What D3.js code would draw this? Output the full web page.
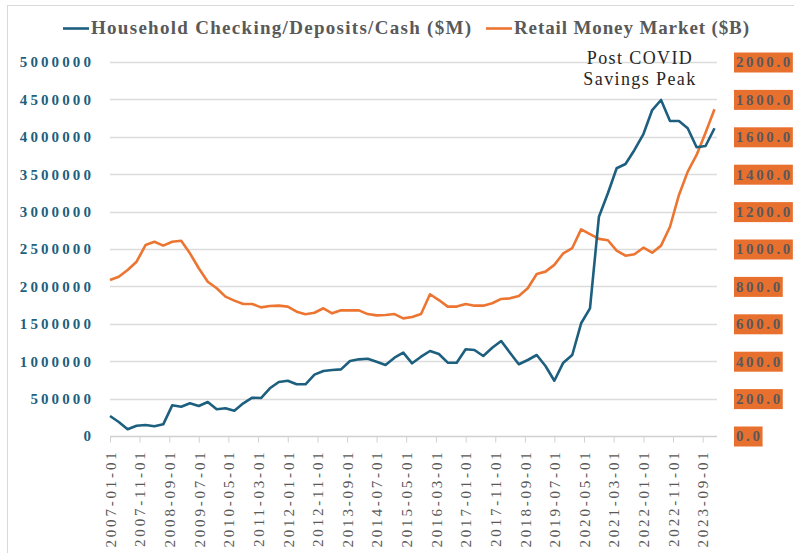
<!DOCTYPE html>
<html>
<head>
<meta charset="utf-8">
<script src="https://cdn.jsdelivr.net/npm/d3@7"></script>
<style>
  body { margin: 0; background: #fff; }
  svg text { font-family: "Liberation Serif", "Times New Roman", serif; }
</style>
</head>
<body>
<div id="linechart"></div>
<script>
// quarterly observations 2007-01-01 .. 2024-01-01
const household = [
  267000, 187000, 90000, 138000, 147000, 130000, 156000, 410000, 392000, 437000,
  401000, 455000, 357000, 370000, 338000, 437000, 512000, 508000, 638000, 722000,
  739000, 691000, 691000, 820000, 869000, 882000, 891000, 1003000, 1025000, 1033000,
  993000, 949000, 1047000, 1114000, 972000, 1060000, 1136000, 1096000, 980000, 980000,
  1159000, 1150000, 1070000, 1180000, 1270000, 1114000, 959000, 1016000, 1083000, 936000,
  739000, 980000, 1083000, 1507000, 1707000, 2932000, 3245000, 3579000, 3636000, 3824000,
  4037000, 4358000, 4492000, 4211000, 4211000, 4114000, 3860000, 3877000, 4114000
];
const moneyMarket = [
  834, 852, 888, 932, 1021, 1039, 1018, 1039, 1044, 977,
  897, 825, 790, 745, 724, 706, 706, 688, 695, 697,
  692, 665, 651, 659, 683, 656, 672, 672, 672, 652,
  645, 647, 652, 629, 636, 652, 758, 727, 692, 692,
  706, 697, 697, 710, 733, 736, 749, 790, 866, 879,
  915, 977, 1005, 1105, 1080, 1054, 1047, 991, 964, 972,
  1007, 980, 1018, 1119, 1289, 1414, 1503, 1622, 1747
];
const tickLabels = [
  '2007-01-01', '2007-11-01', '2008-09-01', '2009-07-01', '2010-05-01', '2011-03-01',
  '2012-01-01', '2012-11-01', '2013-09-01', '2014-07-01', '2015-05-01', '2016-03-01',
  '2017-01-01', '2017-11-01', '2018-09-01', '2019-07-01', '2020-05-01', '2021-03-01',
  '2022-01-01', '2022-11-01', '2023-09-01'
];
const leftTicks = [0, 500000, 1000000, 1500000, 2000000, 2500000, 3000000, 3500000, 4000000, 4500000, 5000000];
const rightTicks = [0, 200, 400, 600, 800, 1000, 1200, 1400, 1600, 1800, 2000];
const legendNames = ['Household Checking/Deposits/Cash ($M)', 'Retail Money Market ($B)'];
const noteLines = ['Post COVID', 'Savings Peak'];

const width = 794, height = 553;
const blue = '#1d5f7e', orange = '#ec7532', grey = '#595959';
const serif = '"Liberation Serif", "Times New Roman", serif';

const parse = d3.timeParse('%Y-%m-%d');
const quarters = d3.timeMonth.every(3).range(parse('2007-01-01'), parse('2024-01-02'));

const svg = d3.select('#linechart').append('svg')
  .attr('width', width).attr('height', height);

// chart frame
svg.append('rect')
  .attr('x', 7.5).attr('y', 5.5)
  .attr('width', width + 20).attr('height', height + 20)
  .attr('fill', 'none').attr('stroke', '#d9d9d9');

const xScale = d3.scaleTime()
  .domain([parse('2007-01-01'), parse('2024-01-01')])
  .range([110, 714.5]);
const yLeft = d3.scaleLinear().domain([0, 5000000]).range([436, 62]);
const yRight = d3.scaleLinear().domain([0, 2000]).range([436, 62]);
const plotRight = 717;

// grid lines
svg.append('g')
  .selectAll('line')
  .data(leftTicks.slice(1))
  .join('line')
  .attr('x1', 110).attr('x2', plotRight)
  .attr('y1', d => Math.round(yLeft(d)) + 0.5).attr('y2', d => Math.round(yLeft(d)) + 0.5)
  .attr('stroke', '#dcdcdc').attr('stroke-width', 1.3);

// x axis
const xAxis = svg.append('g')
  .attr('transform', 'translate(0,436.5)')
  .call(d3.axisBottom(xScale)
    .tickValues(tickLabels.map(parse))
    .tickSize(6)
    .tickPadding(10)
    .tickFormat(d3.timeFormat('%Y-%m-%d')));
xAxis.attr('font-family', null);
xAxis.select('.domain').attr('d', `M110,0H${plotRight}`).attr('stroke', '#d0d0d0').attr('stroke-width', 1.3);
xAxis.selectAll('.tick line').attr('stroke', '#d0d0d0');
xAxis.selectAll('.tick text')
  .attr('transform', 'rotate(-90)')
  .attr('text-anchor', 'end')
  .attr('x', -13).attr('y', 0).attr('dy', '0.35em')
  .attr('fill', grey)
  .style('font-family', serif)
  .style('font-size', '15px')
  .style('letter-spacing', '2.8px');

// left axis
const leftAxis = svg.append('g')
  .attr('transform', 'translate(110,0)')
  .call(d3.axisLeft(yLeft).tickValues(leftTicks).tickSize(0).tickPadding(16).tickFormat(d3.format('d')));
leftAxis.attr('font-family', null);
leftAxis.select('.domain').remove();
leftAxis.selectAll('text')
  .attr('fill', blue)
  .style('font-family', serif)
  .style('font-size', '15px')
  .style('font-weight', 'bold')
  .style('letter-spacing', '3.1px');

// right axis, labels sit on orange boxes
const rightAxis = svg.append('g')
  .attr('transform', 'translate(736,0)')
  .call(d3.axisRight(yRight).tickValues(rightTicks).tickSize(0).tickPadding(0).tickFormat(d3.format('.1f')));
rightAxis.attr('font-family', null);
rightAxis.select('.domain').remove();
rightAxis.selectAll('text')
  .attr('fill', grey)
  .style('font-family', serif)
  .style('font-size', '15px')
  .style('font-weight', 'bold')
  .style('letter-spacing', '2.6px');
rightAxis.selectAll('.tick').each(function () {
  const t = d3.select(this).select('text');
  const bb = t.node().getBBox();
  d3.select(this).insert('rect', 'text')
    .attr('x', -2).attr('y', -10)
    .attr('width', bb.width + 2).attr('height', 20)
    .attr('fill', '#e8702f');
});

// series lines
const lineLeft = d3.line()
  .x((d, i) => xScale(quarters[i]))
  .y(d => yLeft(d));
const lineRight = d3.line()
  .x((d, i) => xScale(quarters[i]))
  .y(d => yRight(d));

svg.append('path')
  .datum(moneyMarket)
  .attr('d', lineRight)
  .attr('fill', 'none').attr('stroke', orange)
  .attr('stroke-width', 2.6).attr('stroke-linejoin', 'round');

svg.append('path')
  .datum(household)
  .attr('d', lineLeft)
  .attr('fill', 'none').attr('stroke', blue)
  .attr('stroke-width', 2.6).attr('stroke-linejoin', 'round');

// legend
const legend = svg.append('g');
const legendItems = [
  { name: legendNames[0], color: blue, x: 63, len: 380 },
  { name: legendNames[1], color: orange, x: 486, len: 235 }
];
legendItems.forEach(it => {
  legend.append('line')
    .attr('x1', it.x).attr('x2', it.x + 26)
    .attr('y1', 28.5).attr('y2', 28.5)
    .attr('stroke', it.color).attr('stroke-width', 2.6);
  legend.append('text')
    .attr('x', it.x + 28).attr('y', 34)
    .attr('fill', grey)
    .attr('textLength', it.len).attr('lengthAdjust', 'spacing')
    .style('font-size', '19px').style('font-weight', 'bold')
    .text(it.name);
});

// annotation
svg.append('g')
  .selectAll('text')
  .data(noteLines)
  .join('text')
  .attr('x', 640).attr('y', (d, i) => 64 + i * 20.5)
  .attr('text-anchor', 'middle')
  .attr('fill', '#262626')
  .style('font-size', '18px')
  .style('letter-spacing', '1.4px')
  .text(d => d);
</script>
</body>
</html>
